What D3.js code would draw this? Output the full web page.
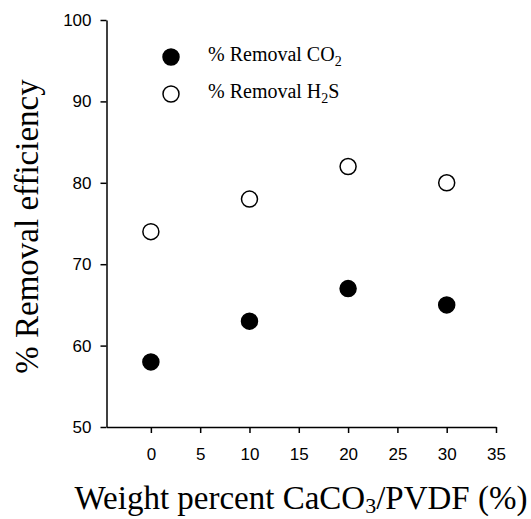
<!DOCTYPE html>
<html>
<head>
<meta charset="utf-8">
<script src="https://cdn.jsdelivr.net/npm/d3@7"></script>
<style>
  body { margin: 0; background: #fff; }
  svg { display: block; }
  .axis path, .axis line { stroke: #000; stroke-width: 1.5; }
  .axis text { font-family: "Liberation Sans", Arial, sans-serif; font-size: 17px; fill: #000; }
  .title { font-family: "Liberation Serif", "Times New Roman", serif; fill: #000; }
</style>
</head>
<body>
<div id="chart"></div>
<script>
// Data
const weightPercent = [0, 10, 20, 30];
const removalCO2 = [58, 63, 67, 65];
const removalH2S = [74, 78, 82, 80];
const xTicks = [0, 5, 10, 15, 20, 25, 30, 35];
const yTicks = [50, 60, 70, 80, 90, 100];

// Layout
const svgW = 531, svgH = 519;
const plotLeft = 106.5, plotRight = 496, plotTop = 20, plotBottom = 427;

const svg = d3.select('#chart').append('svg')
    .attr('width', svgW)
    .attr('height', svgH);

const xScale = d3.scaleLinear().domain([-4.5, 35]).range([plotLeft, plotRight]);
const yScale = d3.scaleLinear().domain([50, 100]).range([plotBottom, plotTop]);

// Axes
svg.append('g')
    .attr('class', 'axis')
    .attr('transform', `translate(0,${plotBottom})`)
    .call(d3.axisBottom(xScale).tickValues(xTicks).tickSizeOuter(0).tickPadding(15));

svg.append('g')
    .attr('class', 'axis')
    .attr('transform', `translate(${plotLeft},0)`)
    .call(d3.axisLeft(yScale).tickValues(yTicks).tickSizeOuter(0).tickPadding(9));

// Axis titles
const xTitle = svg.append('text')
    .attr('class', 'title')
    .attr('x', 301)
    .attr('y', 509)
    .attr('text-anchor', 'middle')
    .attr('font-size', '33px');
xTitle.append('tspan').text('Weight percent CaCO');
xTitle.append('tspan').attr('font-size', '22px').attr('dy', 4).text('3');
xTitle.append('tspan').attr('dy', -4).text('/PVDF (%)');

svg.append('text')
    .attr('class', 'title')
    .attr('transform', `translate(38,${(plotTop + plotBottom) / 2 + 3}) rotate(-90)`)
    .attr('text-anchor', 'middle')
    .attr('font-size', '33px')
    .text('% Removal efficiency');

// Points
const series = [
    { name: 'CO2', values: removalCO2, fill: '#000' },
    { name: 'H2S', values: removalH2S, fill: '#fff' }
];

series.forEach(s => {
    svg.append('g')
        .selectAll('circle')
        .data(weightPercent)
        .join('circle')
        .attr('cx', d => xScale(d))
        .attr('cy', (d, i) => yScale(s.values[i]))
        .attr('r', 8)
        .attr('fill', s.fill)
        .attr('stroke', '#000')
        .attr('stroke-width', 1.5);
});

// Legend
const legend = svg.append('g').attr('class', 'title');
const legendY = [57, 94];

legend.selectAll('circle')
    .data(series)
    .join('circle')
    .attr('cx', 171)
    .attr('cy', (d, i) => legendY[i])
    .attr('r', 8)
    .attr('fill', d => d.fill)
    .attr('stroke', '#000')
    .attr('stroke-width', 1.5);

const t1 = legend.append('text').attr('x', 208).attr('y', legendY[0] + 4).attr('font-size', '20px');
t1.append('tspan').text('% Removal CO');
t1.append('tspan').attr('font-size', '14px').attr('dy', 5).text('2');

const t2 = legend.append('text').attr('x', 208).attr('y', legendY[1] + 4).attr('font-size', '20px');
t2.append('tspan').text('% Removal H');
t2.append('tspan').attr('font-size', '14px').attr('dy', 5).text('2');
t2.append('tspan').attr('dy', -5).text('S');
</script>
</body>
</html>
